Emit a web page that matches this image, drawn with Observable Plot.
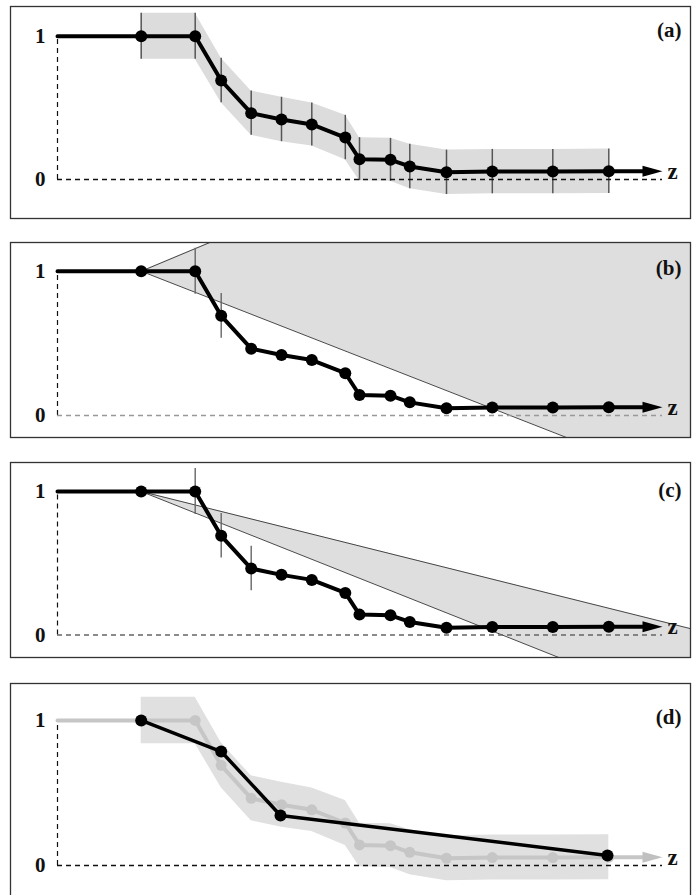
<!DOCTYPE html>
<html><head><meta charset="utf-8">
<script src="https://cdn.jsdelivr.net/npm/d3@7"></script>
<script src="https://cdn.jsdelivr.net/npm/@observablehq/plot@0.6"></script>
<style>
body{margin:0;background:#fff;width:692px;height:895px;overflow:hidden;position:relative}
.panel{position:absolute;left:9px}
.panel svg{overflow:visible}
</style></head><body>
<div id="root"></div>
<script>
// ---- data ----
const zPts   = [8.37, 13.77, 16.37, 19.37, 22.4, 25.43, 28.78, 30.2, 33.3, 35.23, 38.9, 43.48, 49.53, 55.13];
const yPts   = [1.0, 1.0, 0.691, 0.463, 0.419, 0.384, 0.293, 0.142, 0.137, 0.091, 0.05, 0.055, 0.055, 0.057];
const errPts = [0.16, 0.16, 0.155, 0.155, 0.155, 0.15, 0.155, 0.15, 0.15, 0.155, 0.155, 0.155, 0.155, 0.155];
const zCoarse = [8.37, 16.37, 22.3, 55.0];          // panel (d) black series
const yCoarse = [1.0, 0.786, 0.345, 0.069];
const coneB = [0.029, -0.0271];                       // slopes (upper, lower) per z unit, panel (b)
const coneC = [-0.0174, -0.0277];                     // panel (c)
const barsB = [1, 2];                                 // indices with error bars, panel (b)
const barsC = [1, 2, 3];                              // panel (c)
const yTicks = [0, 1];
const panelLabels = ["(a)", "(b)", "(c)", "(d)"];
const axisName = "z";
const zStart = 0, zArrow = 60.5;

// ---- helpers ----
const pts = zPts.map((z, i) => ({z, y: yPts[i], e: errPts[i], lo: yPts[i] - errPts[i], hi: yPts[i] + errPts[i]}));
const last = pts[pts.length - 1];
const lineData = [{z: zStart, y: 1}, ...pts, {z: zArrow - 1.5, y: last.y}];
const coarse = zCoarse.map((z, i) => ({z, y: yCoarse[i]}));
const xDomain = [-4.7, 63.3];
const serif = "'Liberation Serif','Times New Roman',serif";
const arrowHead = {draw(ctx) { ctx.moveTo(0, 0); ctx.lineTo(-20, -5.5); ctx.lineTo(-20, 5.5); ctx.closePath(); }};
const vAxis = [{z: zStart, y1: 0, y2: 1}];
const hAxis = [{y: 0, z1: zStart, z2: zArrow}];
const arrowPt = [{z: zArrow, y: last.y}];

function cone(slopes) {
  const a = pts[0];
  return [a.z, xDomain[1] + 1].map(z => ({z, yU: a.y + slopes[0] * (z - a.z), yL: a.y + slopes[1] * (z - a.z)}));
}

function common({zeroColor = "#111", label, labelY, seriesColor = "black", arrowColor = "black"}) {
  return {
    axes: [
      Plot.ruleX(vAxis, {x: "z", y1: "y1", y2: "y2", stroke: "#111", strokeWidth: 1.2, strokeDasharray: "5,4"}),
      Plot.ruleY(hAxis, {y: "y", x1: "z1", x2: "z2", stroke: zeroColor, strokeWidth: 1.3, strokeDasharray: "5,4"})
    ],
    texts: [
      Plot.text(yTicks.map(t => ({t, z: -1.2})), {x: "z", y: "t", text: d => String(d.t), textAnchor: "end", fontFamily: serif, fontWeight: "bold", fontSize: 21, fill: "#111"}),
      Plot.text([{s: axisName, z: 61.0, y: last.y}], {x: "z", y: "y", text: "s", textAnchor: "start", fontFamily: serif, fontWeight: "bold", fontSize: 23, fill: "#111"}),
      Plot.text([{s: label, z: 62.4, y: labelY}], {x: "z", y: "y", text: "s", textAnchor: "end", fontFamily: serif, fontWeight: "bold", fontSize: 21, fill: "#111"})
    ],
    series: [
      Plot.line(lineData, {x: "z", y: "y", stroke: seriesColor, strokeWidth: 4, strokeLinejoin: "round"}),
      Plot.dot(pts, {x: "z", y: "y", r: seriesColor === "black" ? 6 : 5.5, fill: seriesColor, stroke: "none"}),
      Plot.dot(arrowPt, {x: "z", y: "y", r: 5, symbol: arrowHead, fill: arrowColor, stroke: "none"})
    ]
  };
}

function panel(top, boxH, yDomain, marks) {
  const svg = Plot.plot({
    width: 682, height: boxH + 2,
    marginTop: 1, marginBottom: 1, marginLeft: 1, marginRight: 1,
    x: {domain: xDomain, axis: null}, y: {domain: yDomain, axis: null},
    style: {background: "transparent", overflow: "visible"},
    marks: [...marks, Plot.frame({stroke: "#333", strokeWidth: 1.3})]
  });
  const div = document.createElement("div");
  div.className = "panel";
  div.style.top = (top - 1) + "px";
  div.appendChild(svg);
  document.getElementById("root").appendChild(div);
}

// (a)
{
  const c = common({label: panelLabels[0], labelY: 1.04});
  panel(6, 212, [-0.2722, 1.2073], [
    Plot.areaY(pts, {x: "z", y1: "lo", y2: "hi", fill: "#dcdcdc"}),
    Plot.ruleX(pts, {x: "z", y1: "lo", y2: "hi", stroke: "#555", strokeWidth: 1.5}),
    ...c.axes, ...c.series, ...c.texts
  ]);
}
// (b)
{
  const c = common({label: panelLabels[1], labelY: 1.022, zeroColor: "#999"});
  const cd = cone(coneB);
  const bars = barsB.map(i => pts[i]);
  panel(242, 195, [-0.1525, 1.199], [
    Plot.areaY(cd, {x: "z", y1: "yL", y2: "yU", fill: "#dedede", clip: true}),
    Plot.line(cd, {x: "z", y: "yU", stroke: "#333", strokeWidth: 0.9, clip: true}),
    Plot.line(cd, {x: "z", y: "yL", stroke: "#333", strokeWidth: 0.9, clip: true}),
    Plot.ruleX(bars, {x: "z", y1: "lo", y2: "hi", stroke: "#666", strokeWidth: 1.4}),
    ...c.axes, ...c.series, ...c.texts
  ]);
}
// (c)
{
  const c = common({label: panelLabels[2], labelY: 1.01, zeroColor: "#666"});
  const cd = cone(coneC);
  const bars = barsC.map(i => pts[i]);
  panel(462, 195, [-0.1568, 1.202], [
    Plot.areaY(cd, {x: "z", y1: "yL", y2: "yU", fill: "#dedede", clip: true}),
    Plot.line(cd, {x: "z", y: "yU", stroke: "#333", strokeWidth: 0.9, clip: true}),
    Plot.line(cd, {x: "z", y: "yL", stroke: "#333", strokeWidth: 0.9, clip: true}),
    Plot.ruleX(bars, {x: "z", y1: "lo", y2: "hi", stroke: "#666", strokeWidth: 1.4}),
    ...c.axes, ...c.series, ...c.texts
  ]);
}
// (d)
{
  const c = common({label: panelLabels[3], labelY: 1.02, seriesColor: "#c6c6c6", arrowColor: "#c0c0c0"});
  panel(683, 217, [-0.2414, 1.255], [
    Plot.areaY(pts, {x: "z", y1: "lo", y2: "hi", fill: "#e0e0e0"}),
    ...c.axes, ...c.series,
    Plot.line(coarse, {x: "z", y: "y", stroke: "black", strokeWidth: 3.5, strokeLinejoin: "round"}),
    Plot.dot(coarse, {x: "z", y: "y", r: 6, fill: "black", stroke: "none"}),
    ...c.texts
  ]);
}
</script>
</body></html>
